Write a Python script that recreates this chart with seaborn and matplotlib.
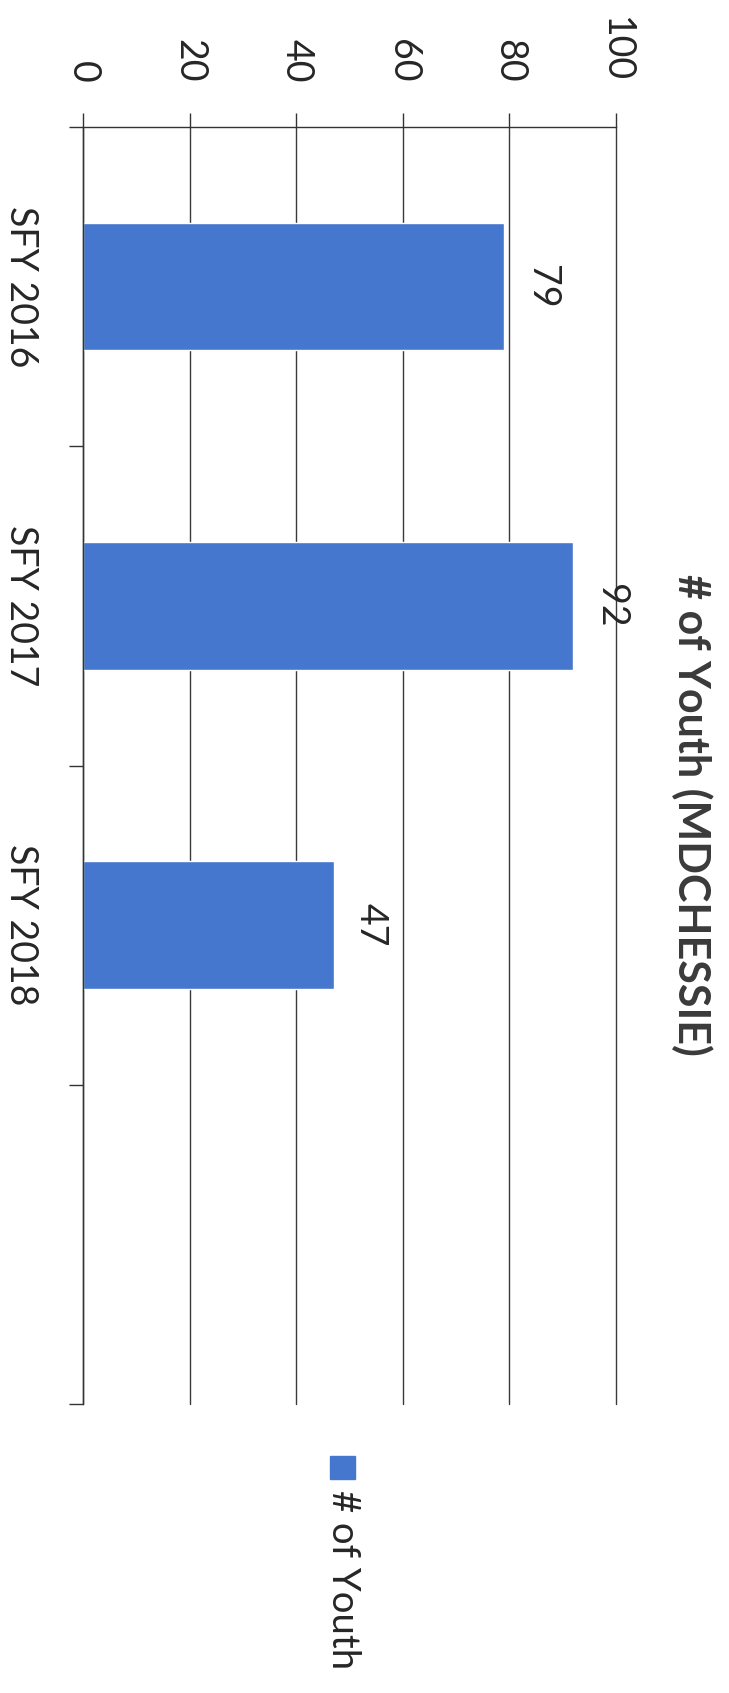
import matplotlib
matplotlib.use("Agg")
import matplotlib.pyplot as plt
import seaborn as sns
import pandas as pd
from matplotlib.patches import Rectangle

categories = ["SFY 2016", "SFY 2017", "SFY 2018"]
youth_counts = [79, 92, 47]
value_ticks = [0, 20, 40, 60, 80, 100]
title_text = "# of Youth (MDCHESSIE)"
legend_label = "# of Youth"

sns.set_style("white")
plt.rcParams["font.family"] = ["Lato", "DejaVu Sans"]

W, H = 729, 1693
fig = plt.figure(figsize=(W / 100, H / 100), dpi=100)
ax = fig.add_axes([83 / W, 1 - 1404 / H, (616 - 83) / W, (1404 - 127) / H])

df = pd.DataFrame({"cat": categories, "val": youth_counts})
bar_color = "#4677CE"
sns.barplot(data=df, x="val", y="cat", orient="h", width=0.4, color=bar_color,
            saturation=1, ax=ax)

# value axis (drawn on top, as in the rotated original)
ax.set_xlim(0, 100)
ax.set_xticks(value_ticks)
ax.xaxis.tick_top()
ax.tick_params(axis="x", which="major", direction="out", length=10, width=1,
               color="#333333", pad=22, labelsize=27, labelcolor="#262626",
               labelrotation=-90)
ax.grid(axis="x", color="#3a3a3a", linewidth=1)
ax.grid(axis="y", visible=False)
for gl in ax.get_xgridlines():
    gl.set_clip_on(False)

# category axis
ax.set_ylim(3.5, -0.5)
ax.set_yticks(range(len(categories)))
ax.set_yticklabels(categories)
ax.set_yticks([-0.5, 0.5, 1.5, 2.5, 3.5], minor=True)
ax.tick_params(axis="y", which="major", length=0, pad=32, labelsize=27,
               labelcolor="#262626", labelrotation=-90)
ax.tick_params(axis="y", which="minor", direction="out", length=10, width=1,
               color="#333333", left=True)
for lab in ax.get_yticklabels():
    lab.set_va("center")
    lab.set_ha("right")

ax.set_xlabel("")
ax.set_ylabel("")
for side in ["right", "bottom"]:
    ax.spines[side].set_visible(False)
for side in ["top", "left"]:
    ax.spines[side].set_visible(True)
    ax.spines[side].set_color("#333333")
    ax.spines[side].set_linewidth(1)

# data labels
ax.bar_label(ax.containers[0], labels=[str(v) for v in youth_counts],
             padding=14, rotation=-90, fontsize=27, color="#262626",
             label_type="edge")
for t in ax.texts:
    t.set_ha("left")
    t.set_va("center")

# title
fig.text(692 / W, 1 - 815 / H, title_text, rotation=-90, ha="center",
         va="center", fontsize=31, fontweight="bold", color="#3a3a3a")

# legend (rotated layout: swatch above text)
fig.add_artist(Rectangle((330 / W, 1 - 1479 / H), 25 / W, 23 / H,
                         transform=fig.transFigure, color=bar_color))
fig.text(343 / W, 1 - 1490 / H, legend_label, rotation=-90, ha="center",
         va="top", fontsize=27.5, color="#262626")

fig.savefig("out.png", dpi=100, facecolor="white")
